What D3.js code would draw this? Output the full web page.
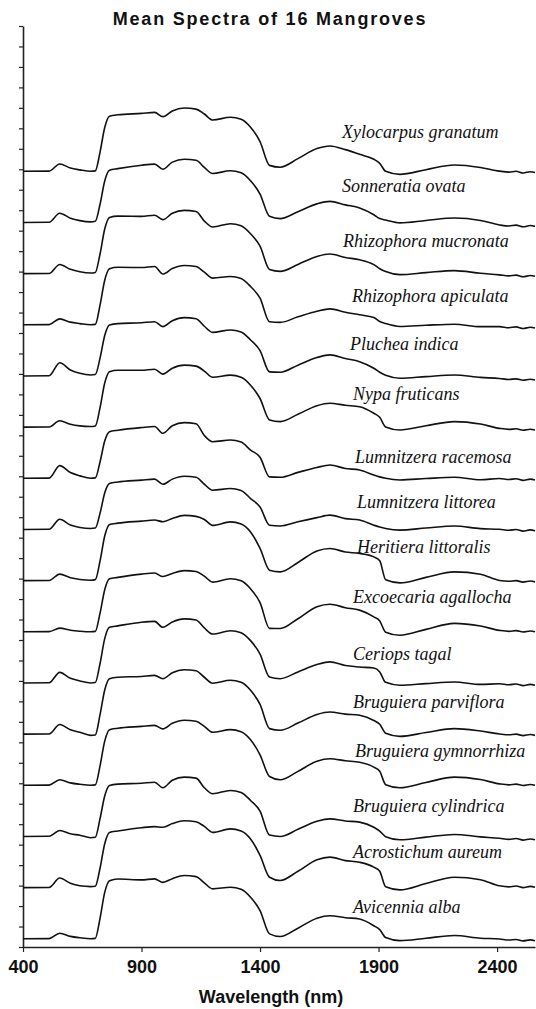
<!DOCTYPE html>
<html>
<head>
<meta charset="utf-8">
<script src="https://cdn.jsdelivr.net/npm/d3@7"></script>
<style>
    body { margin: 0; background: #fff; }
    svg { display: block; }
</style>
</head>
<body>
<div id="chart"></div>
<script>
// wavelength grid (nm) shared by every spectrum
const wavelengths = [400,510,555,600,640,685,705,725,745,765,800,900,955,990,1030,1080,1130,1165,1200,1275,1320,1360,1400,1440,1485,1560,1640,1695,1760,1820,1880,1905,1930,1990,2100,2220,2330,2410,2450,2480,2510,2540,2560];

// species, top to bottom as stacked in the figure
const species = [
    "Xylocarpus granatum", "Sonneratia ovata", "Rhizophora mucronata", "Rhizophora apiculata",
    "Pluchea indica", "Nypa fruticans", "Lumnitzera racemosa", "Lumnitzera littorea",
    "Heritiera littoralis", "Excoecaria agallocha", "Ceriops tagal", "Bruguiera parviflora",
    "Bruguiera gymnorrhiza", "Bruguiera cylindrica", "Acrostichum aureum", "Avicennia alba"
];

// mean reflectance (%) before stacking
const xylocarpus = [4.0,4.1,7.6,5.6,4.7,4.0,4.2,13.4,25.5,30.9,31.6,32.3,32.8,30.7,33.5,34.9,34.4,32.0,29.1,30.4,29.4,25.5,18.5,6.9,6.0,10.2,15.1,16.4,14.6,12.3,9.9,7.9,4.0,2.5,4.8,7.1,5.9,4.1,3.6,4.0,3.2,3.8,3.4];
const sonneratia = [4.0,4.1,8.5,6.1,4.9,4.3,4.6,12.9,24.4,29.5,30.3,32.0,32.5,30.0,33.5,34.9,34.4,30.9,27.9,29.3,28.3,24.4,17.9,7.0,5.9,9.3,13.1,14.3,12.6,11.1,7.8,5.9,5.2,3.8,5.0,6.2,5.0,2.8,2.3,2.7,1.9,2.5,2.1];
const rhizoMucronata = [4.0,4.1,8.5,6.1,4.9,4.3,4.6,13.6,25.9,31.4,32.1,32.0,32.5,30.4,33.5,34.9,34.4,29.7,26.8,28.4,27.4,23.5,17.4,6.0,5.1,8.5,12.4,13.6,11.9,10.8,8.4,6.4,5.0,3.5,4.5,5.5,4.2,3.4,2.9,3.3,2.5,3.1,2.7];
const rhizoApiculata = [4.0,4.1,6.9,5.3,4.6,4.0,4.2,13.6,25.9,31.4,32.1,32.0,32.5,28.8,31.5,33.0,32.5,29.7,26.8,27.6,26.6,22.7,17.0,5.5,5.2,7.9,10.6,11.8,10.1,8.9,7.6,5.6,4.6,3.2,3.8,4.3,3.1,3.1,2.6,3.0,2.2,2.8,2.4];
const pluchea = [4.0,4.1,10.5,6.9,5.3,4.5,4.7,12.7,23.9,28.9,29.6,30.0,30.5,28.1,31.0,32.5,32.0,28.3,25.3,26.5,25.5,21.6,16.4,6.0,5.8,9.3,13.0,14.3,12.5,11.0,7.8,5.8,4.3,2.9,3.7,4.5,3.3,2.8,2.3,2.6,1.9,2.4,2.0];
const nypa = [4.0,4.1,7.1,5.4,4.6,4.3,4.6,13.5,25.7,31.1,31.8,31.8,32.3,29.9,32.8,34.3,33.8,31.4,28.4,29.4,28.4,24.5,18.0,7.5,6.7,10.3,14.5,15.7,14.7,14.0,10.8,8.8,4.1,2.6,4.7,6.7,5.5,3.4,2.9,3.2,2.5,3.0,2.6];
const lumRacemosa = [4.0,4.1,10.2,6.8,5.2,4.0,4.2,12.0,22.3,26.8,27.5,28.8,29.3,26.0,29.7,31.2,30.7,24.9,21.9,22.7,21.7,17.8,14.3,4.7,4.5,6.9,9.3,10.5,8.8,8.1,5.6,4.7,4.0,3.2,3.9,4.5,3.3,3.9,3.4,3.8,3.0,3.6,3.2];
const lumLittorea = [4.0,4.1,9.0,6.2,5.0,4.5,4.7,11.9,22.0,26.5,27.2,28.1,28.6,26.1,28.6,30.0,29.5,26.1,23.2,24.0,23.1,19.1,15.0,6.1,5.7,7.8,9.8,11.0,9.3,8.6,6.1,5.2,4.5,3.7,4.7,5.7,4.4,4.1,3.6,4.0,3.2,3.8,3.4];
const heritiera = [4.0,4.1,7.2,5.4,4.6,4.2,4.5,13.6,25.9,31.4,32.1,33.1,33.6,32.8,34.4,35.9,35.4,33.9,31.0,32.7,31.7,27.8,19.8,9.1,8.3,12.9,18.5,19.7,18.0,17.3,15.6,13.7,4.4,2.9,5.6,8.3,7.1,4.1,3.7,4.0,3.3,3.8,3.4];
const excoecaria = [4.0,4.1,5.8,4.8,4.3,4.0,4.2,13.1,24.7,29.9,30.6,32.2,32.7,31.0,32.5,33.9,33.5,31.2,28.3,29.9,28.9,25.0,18.3,5.7,5.6,10.4,16.3,17.5,15.8,14.6,11.3,9.3,3.8,2.3,5.2,8.1,6.8,4.7,4.2,4.6,3.9,4.4,4.0];
const ceriops = [4.0,4.1,9.2,6.3,5.0,4.0,4.2,13.5,25.8,31.2,31.9,33.7,34.1,31.2,33.8,35.3,34.8,30.9,27.9,29.5,28.6,24.7,18.1,6.9,6.1,9.4,13.0,14.3,12.5,11.8,11.3,9.4,4.3,2.9,3.7,4.5,3.3,3.6,3.1,3.5,2.7,3.3,2.9];
const brugParviflora = [4.0,4.1,8.7,6.1,4.9,3.4,3.6,13.5,25.7,31.1,31.8,32.2,32.7,31.1,34.0,35.5,35.0,31.8,28.9,30.3,29.3,25.4,18.5,6.7,5.9,9.4,13.6,14.8,13.8,13.2,10.7,8.8,4.4,2.9,4.8,6.7,5.5,4.1,3.7,4.0,3.3,3.8,3.4];
const brugGymnorrhiza = [4.0,4.1,6.7,5.2,4.5,4.0,4.2,13.5,25.7,31.2,31.9,32.8,33.3,31.6,34.3,35.8,35.3,32.8,29.9,31.2,30.2,26.3,18.9,8.3,6.7,10.8,15.8,17.0,16.0,15.3,12.9,10.9,4.3,2.8,5.4,8.0,6.8,4.7,4.2,4.6,3.9,4.4,4.0];
const brugCylindrica = [4.0,4.1,6.9,5.3,4.6,3.4,3.6,12.7,23.9,28.9,29.6,30.0,30.5,27.8,31.5,33.0,32.5,27.8,24.9,26.5,25.5,21.6,16.4,4.7,4.0,7.5,11.4,12.6,11.6,11.0,8.5,6.6,3.9,2.4,3.7,5.0,3.8,3.1,2.6,3.0,2.2,2.8,2.4];
const acrostichum = [4.0,4.1,8.7,6.1,4.9,4.5,4.7,13.5,25.6,31.0,31.7,33.3,33.8,33.5,35.3,36.7,36.2,33.9,31.0,32.7,31.7,27.8,19.8,9.1,7.5,12.0,17.6,18.9,17.2,16.4,14.0,12.0,4.4,2.9,6.0,9.1,7.9,4.9,4.4,4.8,4.0,4.6,4.2];
const avicennia = [4.0,4.1,6.7,5.2,4.5,4.0,4.2,14.0,26.8,32.4,33.2,32.8,33.3,31.6,33.4,34.9,34.4,31.3,28.4,29.2,28.2,24.3,17.8,6.4,5.1,9.2,14.1,15.3,14.3,13.7,10.4,8.5,4.6,3.1,4.3,5.6,4.3,3.9,3.4,3.7,3.0,3.5,3.1];

const spectra = [xylocarpus, sonneratia, rhizoMucronata, rhizoApiculata, pluchea, nypa, lumRacemosa, lumLittorea,
    heritiera, excoecaria, ceriops, brugParviflora, brugGymnorrhiza, brugCylindrica, acrostichum, avicennia];

const stackStep = 25;   // % added per curve, counted from the bottom one
const xTicks = [400, 900, 1400, 1900, 2400];
const yTicks = d3.range(0, 451, 10);

// where each name sits, in data units [nm, stacked %]
const labelAnchors = [
    [1746, 395.2], [1746, 368.8], [1750, 342.0], [1788, 315.1], [1780, 291.6], [1792, 267.2],
    [1801, 236.4], [1809, 214.5], [1809, 192.5], [1792, 168.1], [1792, 140.2], [1792, 116.8],
    [1801, 92.8], [1792, 66.0], [1792, 43.5], [1792, 16.6]
];

const W = 536, H = 1009;
const svg = d3.select("#chart").append("svg").attr("width", W).attr("height", H);
svg.append("rect").attr("width", W).attr("height", H).attr("fill", "#fff");

const x = d3.scaleLinear().domain([400, 2560]).range([23, 535]);
const y = d3.scaleLinear().domain([0, 450]).range([947, 26]);

svg.append("text")
    .attr("x", 270).attr("y", 25)
    .attr("text-anchor", "middle")
    .style("font-family", "'Liberation Sans', Arial, sans-serif")
    .style("font-weight", "bold").style("font-size", "18px").style("letter-spacing", "1.8px")
    .attr("fill", "#111")
    .text("Mean Spectra of 16 Mangroves");

// left axis: unlabeled ticks only
const yAxis = svg.append("g").attr("transform", `translate(${x(400)},0)`)
    .call(d3.axisLeft(y).tickValues(yTicks).tickSize(4).tickSizeOuter(0).tickFormat(""));
yAxis.select(".domain").attr("stroke", "#222").attr("stroke-width", 1.6);
yAxis.selectAll(".tick line").attr("stroke", "#222").attr("stroke-width", 1.2);

const xAxis = svg.append("g").attr("transform", `translate(0,${y(0)})`)
    .call(d3.axisBottom(x).tickValues(xTicks).tickSize(5).tickSizeOuter(0).tickPadding(8).tickFormat(d3.format("d")));
xAxis.select(".domain").attr("stroke", "#222").attr("stroke-width", 1.6);
xAxis.selectAll(".tick line").attr("stroke", "#222").attr("stroke-width", 1.2);
xAxis.selectAll(".tick text")
    .style("font-family", "'Liberation Sans', Arial, sans-serif")
    .style("font-weight", "bold").style("font-size", "18px")
    .attr("fill", "#111");

svg.append("text")
    .attr("x", 271).attr("y", 1003)
    .attr("text-anchor", "middle")
    .style("font-family", "'Liberation Sans', Arial, sans-serif")
    .style("font-weight", "bold").style("font-size", "18px")
    .attr("fill", "#111")
    .text("Wavelength (nm)");

const n = spectra.length;
spectra.forEach((vals, i) => {
    const offset = (n - 1 - i) * stackStep;
    const line = d3.line()
        .x((d, j) => x(wavelengths[j]))
        .y(d => y(d + offset))
        .curve(d3.curveMonotoneX);
    svg.append("path")
        .attr("d", line(vals))
        .attr("fill", "none")
        .attr("stroke", "#111")
        .attr("stroke-width", 1.6)
        .attr("stroke-linejoin", "round");
});

svg.selectAll(".species-label")
    .data(species).enter().append("text")
    .attr("class", "species-label")
    .attr("x", (d, i) => x(labelAnchors[i][0]))
    .attr("y", (d, i) => y(labelAnchors[i][1]))
    .style("font-family", "'Liberation Serif', 'Times New Roman', serif")
    .style("font-style", "italic").style("font-size", "18px")
    .attr("fill", "#111")
    .text(d => d);
</script>
</body>
</html>
